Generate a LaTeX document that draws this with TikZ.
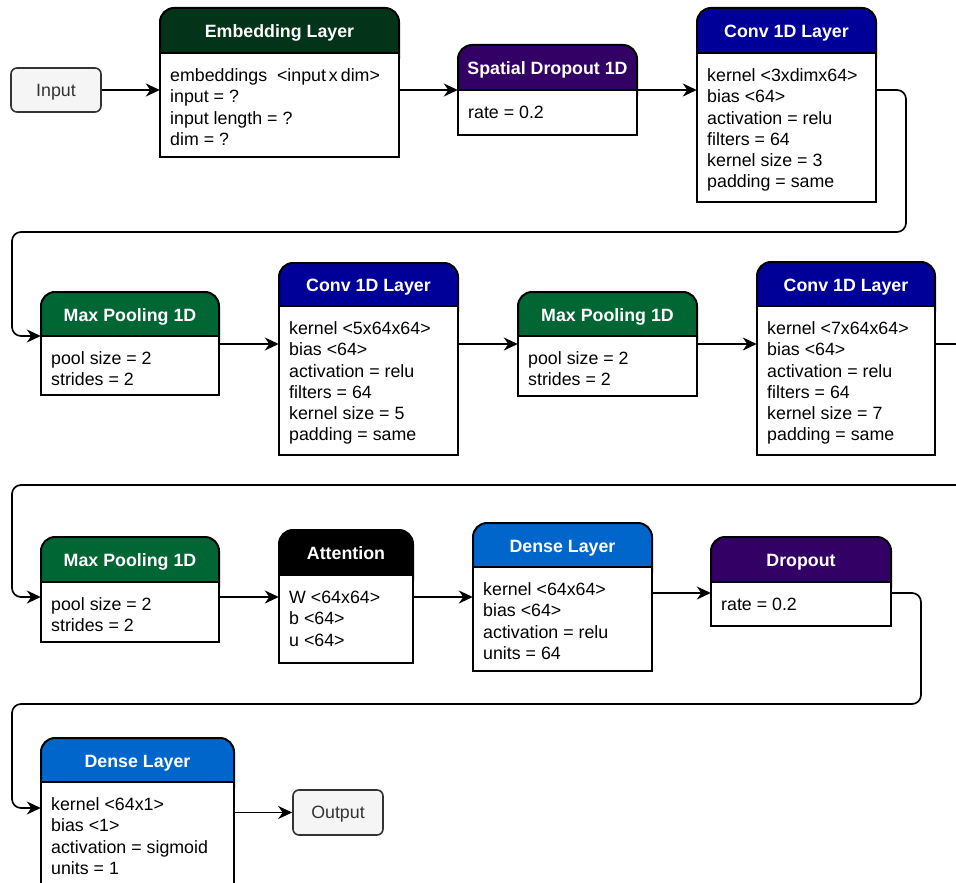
\documentclass[tikz,border=0pt]{standalone}
\usepackage{fontspec}
\setmainfont{Liberation Sans}
\usetikzlibrary{arrows.meta,fit}

\definecolor{embgreen}{RGB}{3,51,25}
\definecolor{poolgreen}{RGB}{0,102,51}
\definecolor{convblue}{RGB}{0,0,153}
\definecolor{denseblue}{RGB}{0,102,204}
\definecolor{droppurple}{RGB}{51,0,102}
\definecolor{termgray}{RGB}{245,245,245}
\definecolor{termline}{RGB}{51,51,51}

\tikzset{
  box/.style={line width=2pt, draw=black},
  header/.style={box, rounded corners=14pt},
  title/.style={text=white, font=\bfseries\fontsize{17.8}{21}\selectfont,
    inner sep=0pt, text height=12.7pt, text depth=0pt},
  body/.style={font=\fontsize{17.8}{21.2}\selectfont, align=left,
    anchor=north west, inner sep=0pt},
  link/.style={line width=1.7pt, draw=black, rounded corners=9pt,
    -{Stealth[length=14pt,width=13pt,inset=4.5pt]}},
  term/.style={draw=termline, fill=termgray, line width=1.6pt,
    rounded corners=6pt, text=termline,
    font=\fontsize{17.8}{21}\selectfont, inner sep=0pt,
    text height=12.7pt, text depth=0pt}
}

% layer block: name, left, right, top, header bottom, bottom, colour, title, body
% (the body's first baseline sits 28.5 below the header; the strut fixes its top)
\newcommand\layerbox[9]{%
  \draw[header, fill=#7] (#2,#4) rectangle (#3,{#5+20});
  \draw[box, fill=white] (#2,#5) rectangle (#3,#6);
  \node[title] (#1-title) at ({(#2+#3)/2},{(#4+#5)/2+1}) {#8};
  \node[body] (#1-text) at ({#2+10},{#5+14.5}) {\rule{0pt}{14pt}#9};
  \node[fit={(#2,#4) (#3,#6)}, inner sep=0pt] (#1) {};
}

\begin{document}
\begin{tikzpicture}[x=1pt,y=-1pt]
  \clip (0,0) rectangle (956,883);
  \fill[white] (0,0) rectangle (956,883);

  % connector levels
  \coordinate (r1) at (0,90);
  \coordinate (r2in) at (0,336);
  \coordinate (r2) at (0,344);
  \coordinate (r3) at (0,597);
  \coordinate (r3b) at (0,593);
  \coordinate (r4) at (0,808);

  \node[term, minimum width=90pt, minimum height=44pt] (input) at (56,90) {Input};

  \layerbox{emb}{160}{399}{8}{53}{157}{embgreen}{Embedding Layer}
    {embeddings\ \ <input\,x\,dim>\\input = ?\\input length = ?\\dim = ?}
  \layerbox{spd}{458}{637}{45}{90}{135}{droppurple}{Spatial Dropout 1D}
    {rate = 0.2}
  \layerbox{conv1}{697}{876}{8}{53}{202}{convblue}{Conv 1D Layer}
    {kernel <3xdimx64>\\bias <64>\\activation = relu\\filters = 64\\kernel size = 3\\padding = same}

  \layerbox{mp1}{41}{219}{292}{336}{395}{poolgreen}{Max Pooling 1D}
    {pool size = 2\\strides = 2}
  \layerbox{conv2}{279}{458}{263}{306}{455}{convblue}{Conv 1D Layer}
    {kernel <5x64x64>\\bias <64>\\activation = relu\\filters = 64\\kernel size = 5\\padding = same}
  \layerbox{mp2}{518}{697}{292}{336}{396}{poolgreen}{Max Pooling 1D}
    {pool size = 2\\strides = 2}
  \layerbox{conv3}{757}{935}{262}{306}{455}{convblue}{Conv 1D Layer}
    {kernel <7x64x64>\\bias <64>\\activation = relu\\filters = 64\\kernel size = 7\\padding = same}

  \layerbox{mp3}{41}{219}{537}{582}{642}{poolgreen}{Max Pooling 1D}
    {pool size = 2\\strides = 2}
  \layerbox{att}{279}{413}{530}{575}{663}{black}{Attention}
    {W <64x64>\\b <64>\\u <64>}
  \layerbox{dense}{473}{652}{523}{567}{671}{denseblue}{Dense Layer}
    {kernel <64x64>\\bias <64>\\activation = relu\\units = 64}
  \layerbox{drop}{711}{891}{537}{582}{626}{droppurple}{Dropout}
    {rate = 0.2}

  \layerbox{dense2}{41}{234}{738}{782}{900}{denseblue}{Dense Layer}
    {kernel <64x1>\\bias <1>\\activation = sigmoid\\units = 1}

  \node[term, minimum width=90pt, minimum height=45pt] (output) at (338,812.5) {Output};

  % first row
  \draw[link] (input) -- (emb.west |- input);
  \draw[link] (emb.east |- r1) -- (spd.west |- r1);
  \draw[link] (spd.east |- r1) -- (conv1.west |- r1);
  \draw[link] (conv1.east |- r1) -- (906,90) -- (906,232) -- (12,232)
    -- (12,336) -- (mp1.west |- r2in);

  % second row
  \draw[link] (mp1.east |- r2) -- (conv2.west |- r2);
  \draw[link] (conv2.east |- r2) -- (mp2.west |- r2);
  \draw[link] (mp2.east |- r2) -- (conv3.west |- r2);
  \draw[link] (conv3.east |- r2) -- (985,344) -- (985,485) -- (12,485)
    -- (12,597) -- (mp3.west |- r3);

  % third row
  \draw[link] (mp3.east |- r3) -- (att.west |- r3);
  \draw[link] (att.east |- r3) -- (dense.west |- r3);
  \draw[link] (dense.east |- r3b) -- (drop.west |- r3b);
  \draw[link] (drop.east |- r3b) -- (921,593) -- (921,704) -- (12,704)
    -- (12,808) -- (dense2.west |- r4);

  % last row
  \draw[link] (dense2.east |- output) -- (output);
\end{tikzpicture}
\end{document}
